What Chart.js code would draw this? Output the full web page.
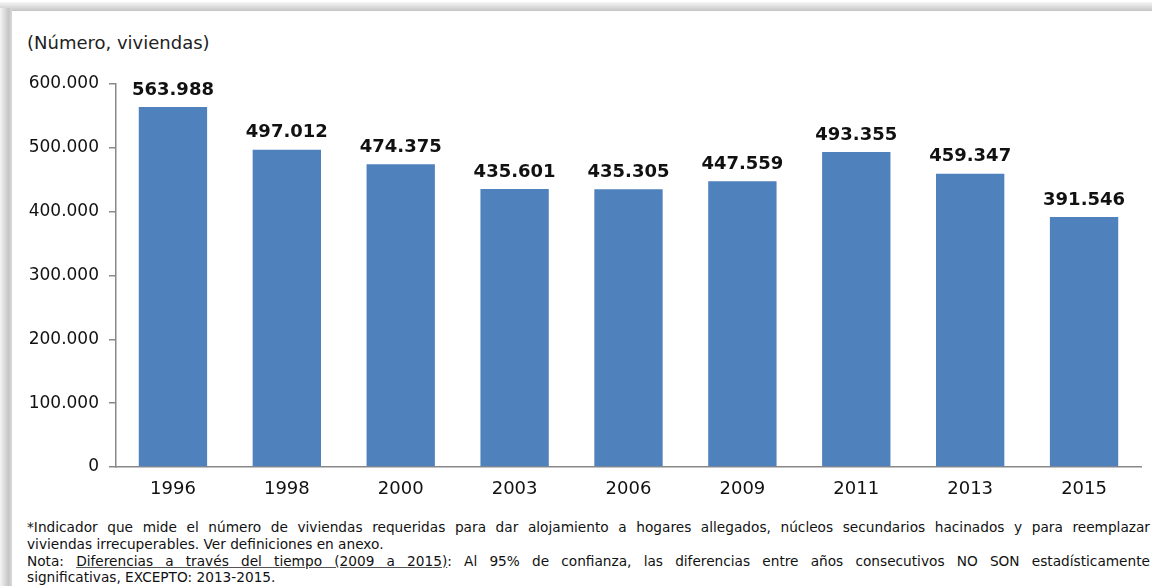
<!DOCTYPE html>
<html>
<head>
<meta charset="utf-8">
<script src="https://cdn.jsdelivr.net/npm/chart.js@4"></script>
<style>
  body { margin: 0; background: #fff; font-family: "DejaVu Sans", Verdana, sans-serif; }
  #frame { position: absolute; left: 0; top: 0; width: 1152px; height: 586px; overflow: hidden; }
  #edgeL { position: absolute; left: 0; top: 8px; width: 12px; height: 600px;
           background: linear-gradient(to right, #f4f4f4, #c6c6c6 70%, #d8d8d8); }
  #edgeT { position: absolute; left: 0; top: 2px; width: 1152px; height: 9px;
           background: linear-gradient(to bottom, #f6f6f6, #cfcfcf 80%, #c4c4c4); }
  #unit { position: absolute; left: 27px; top: 32px; font-size: 18px; color: #222; }
  #wrap { position: absolute; left: 12px; top: 62px; width: 1140px; height: 445px; }
  #notes { position: absolute; left: 27px; top: 519px; width: 1123px; font-size: 13.7px;
           line-height: 16.8px; color: #111; white-space: nowrap; }
  .j { text-align: justify; text-align-last: justify; }
  u { text-decoration-color: #555; }
</style>
</head>
<body>
<div id="frame">
  <div id="edgeT"></div>
  <div id="edgeL"></div>
  <div id="unit">(Número, viviendas)</div>
  <div id="wrap"><canvas id="barChart"></canvas></div>
  <div id="notes">
    <div class="j">*Indicador que mide el número de viviendas requeridas para dar alojamiento a hogares allegados, núcleos secundarios hacinados y para reemplazar</div>
    <div>viviendas irrecuperables. Ver definiciones en anexo.</div>
    <div class="j">Nota: <u>Diferencias a través del tiempo (2009 a 2015)</u>: Al 95% de confianza, las diferencias entre años consecutivos NO SON estadísticamente</div>
    <div>significativas, EXCEPTO: 2013-2015.</div>
  </div>
</div>
<script>
  // Datos del gráfico
  const years = ['1996', '1998', '2000', '2003', '2006', '2009', '2011', '2013', '2015'];
  const deficit = [563988, 497012, 474375, 435601, 435305, 447559, 493355, 459347, 391546];
  const yTicks = [0, 100000, 200000, 300000, 400000, 500000, 600000];

  // 600000 -> "600.000"
  function fmt(n) {
    return String(n).replace(/\B(?=(\d{3})+(?!\d))/g, '.');
  }

  // etiquetas sobre las barras
  const barLabels = {
    id: 'barLabels',
    afterDatasetsDraw(chart) {
      const ctx = chart.ctx;
      const meta = chart.getDatasetMeta(0);
      ctx.save();
      ctx.font = 'bold 18px "DejaVu Sans", Verdana, sans-serif';
      ctx.fillStyle = '#111';
      ctx.textAlign = 'center';
      ctx.textBaseline = 'bottom';
      meta.data.forEach((bar, i) => {
        ctx.fillText(fmt(deficit[i]), bar.x, bar.y - 8);
      });
      ctx.restore();
    }
  };

  const ctx = document.getElementById('barChart').getContext('2d');
  new Chart(ctx, {
    type: 'bar',
    data: {
      labels: years,
      datasets: [{
        label: 'Déficit habitacional',
        data: deficit,
        backgroundColor: '#4F81BD',
        categoryPercentage: 1,
        barPercentage: 0.6
      }]
    },
    options: {
      responsive: true,
      maintainAspectRatio: false,
      animation: false,
      layout: { padding: { top: 22, right: 11, left: 0, bottom: 0 } },
      plugins: { legend: { display: false }, tooltip: { enabled: false } },
      scales: {
        x: {
          grid: { display: false, drawTicks: false },
          border: { color: '#888', width: 1.5 },
          ticks: { color: '#111', font: { size: 18, family: '"DejaVu Sans", Verdana, sans-serif' }, padding: 12 },
          afterFit(scale) { scale.height = 40; }
        },
        y: {
          min: 0,
          max: 600000,
          afterBuildTicks(scale) { scale.ticks = yTicks.map(v => ({ value: v })); },
          grid: { display: true, drawOnChartArea: false, drawTicks: true, tickLength: 7, color: '#888', lineWidth: 1.5 },
          border: { color: '#888', width: 1.5 },
          ticks: {
            color: '#111',
            font: { size: 17, family: '"DejaVu Sans", Verdana, sans-serif' },
            padding: 10,
            callback: v => fmt(v)
          },
          afterFit(scale) { scale.width = 104; }
        }
      }
    },
    plugins: [barLabels]
  });
</script>
</body>
</html>
